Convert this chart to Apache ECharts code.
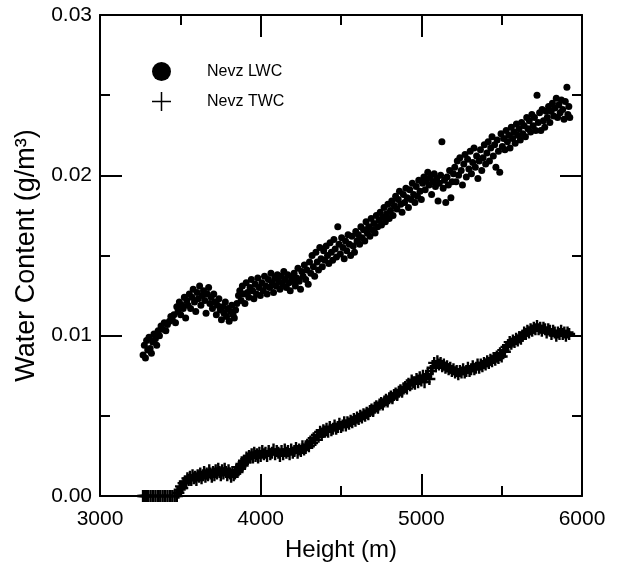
<!DOCTYPE html>
<html>
<head>
<meta charset="utf-8">
<script src="https://cdn.jsdelivr.net/npm/echarts@6/dist/echarts.min.js"></script>
<style>
  html, body { margin: 0; padding: 0; background: #fff; }
  #chart { width: 619px; height: 571px; }
</style>
</head>
<body>
<div id="chart"></div>
<script>
// Nevz LWC: [height (m), water content (g/m3)]
var lwcData = [
  [3268,0.0088],[3276,0.0094],[3283,0.0086],[3290,0.0097],[3297,0.0091],[3305,0.0099],[3312,0.0092],[3320,0.0089],[3328,0.0096],[3336,0.0101],[3345,0.0098],[3353,0.0094],[3362,0.0103],
  [3370,0.0100],[3380,0.0106],[3390,0.0104],[3400,0.0108],[3410,0.0103],[3420,0.0107],[3432,0.0109],[3441,0.0112],[3450,0.0110],[3460,0.0113],
  [3470,0.0108],[3478,0.0118],[3486,0.0115],[3494,0.0121],[3502,0.0113],[3510,0.0119],[3518,0.0117],[3525,0.0124],[3533,0.0111],[3540,0.0122],[3548,0.0119],[3556,0.0126],
  [3564,0.0117],[3572,0.0124],[3580,0.0129],[3588,0.0121],[3596,0.0115],[3604,0.0127],[3612,0.0123],[3620,0.0131],[3628,0.0119],[3636,0.0125],[3644,0.0128],[3652,0.0122],[3660,0.0114],[3668,0.0126],[3676,0.0130],[3684,0.0120],[3692,0.0124],[3700,0.0117],
  [3708,0.0126],[3716,0.0121],[3724,0.0113],[3732,0.0119],[3740,0.0123],[3748,0.0116],[3756,0.0110],[3764,0.0118],[3772,0.0114],[3780,0.0121],[3788,0.0112],[3796,0.0117],[3804,0.0109],[3812,0.0115],[3820,0.0119],[3828,0.0113],[3836,0.0111],[3844,0.0116],[3852,0.0120],
  [3862,0.0125],[3870,0.0128],[3878,0.0122],[3886,0.0131],[3894,0.0126],[3902,0.0120],[3910,0.0133],[3918,0.0127],[3926,0.0124],[3934,0.0130],[3942,0.0135],[3950,0.0128],[3958,0.0123],[3966,0.0132],[3974,0.0126],[3982,0.0136],[3990,0.0130],[3998,0.0125],
  [4008,0.0133],[4016,0.0128],[4024,0.0137],[4032,0.0131],[4040,0.0126],[4048,0.0135],[4056,0.0130],[4064,0.0139],[4072,0.0133],[4080,0.0127],[4088,0.0136],[4096,0.0131],[4104,0.0138],[4112,0.0134],[4120,0.0129],[4128,0.0137],[4136,0.0132],[4144,0.0140],[4152,0.0135],[4160,0.0130],[4168,0.0138],[4176,0.0133],[4184,0.0128],[4192,0.0136],[4200,0.0134],
  [4208,0.0139],[4216,0.0131],[4224,0.0136],[4232,0.0142],[4240,0.0134],[4248,0.0129],[4256,0.0140],[4264,0.0137],[4272,0.0144],[4280,0.0135],[4288,0.0141],[4296,0.0132],[4304,0.0146],[4312,0.0139],[4320,0.0150],[4328,0.0143],[4336,0.0137],[4344,0.0152],[4352,0.0146],[4360,0.0141],[4368,0.0155],[4376,0.0148],[4384,0.0143],[4392,0.0153],[4400,0.0147],
  [4408,0.0156],[4416,0.0150],[4424,0.0145],[4432,0.0158],[4440,0.0152],[4448,0.0147],[4456,0.0160],[4464,0.0154],[4472,0.0149],[4480,0.0168],[4488,0.0157],[4496,0.0151],[4504,0.0161],[4512,0.0155],[4520,0.0148],[4528,0.0159],[4536,0.0153],[4544,0.0163],[4552,0.0157],[4560,0.0150],[4568,0.0162],[4576,0.0156],[4584,0.0152],[4592,0.0165],[4600,0.0159],
  [4608,0.0163],[4616,0.0157],[4624,0.0168],[4632,0.0161],[4640,0.0166],[4648,0.0159],[4656,0.0171],[4664,0.0164],[4672,0.0168],[4680,0.0162],[4688,0.0173],[4696,0.0166],[4704,0.0170],[4712,0.0164],[4720,0.0175],[4728,0.0168],[4736,0.0172],[4744,0.0177],[4752,0.0169],[4760,0.0174],[4768,0.0180],[4776,0.0171],[4784,0.0176],[4792,0.0182],[4800,0.0173],
  [4808,0.0178],[4816,0.0184],[4824,0.0175],[4832,0.0181],[4840,0.0187],[4848,0.0179],[4856,0.0185],[4864,0.0190],[4872,0.0182],[4880,0.0177],[4888,0.0188],[4896,0.0183],[4904,0.0192],[4912,0.0186],[4920,0.0180],[4928,0.0191],[4936,0.0185],[4944,0.0195],[4952,0.0188],[4960,0.0183],[4968,0.0193],[4976,0.0187],[4984,0.0197],[4992,0.0190],[5000,0.0185],
  [5008,0.0195],[5016,0.0199],[5024,0.0191],[5032,0.0197],[5040,0.0202],[5048,0.0194],[5056,0.0199],[5064,0.0188],[5072,0.0196],[5080,0.0201],[5088,0.0193],[5096,0.0198],[5104,0.0184],[5112,0.0195],[5120,0.0200],[5128,0.0221],[5136,0.0192],[5144,0.0197],[5152,0.0183],[5160,0.0199],[5168,0.0194],[5176,0.0203],[5184,0.0186],[5192,0.0196],[5200,0.0201],
  [5208,0.0205],[5216,0.0196],[5224,0.0209],[5232,0.0200],[5240,0.0211],[5248,0.0203],[5256,0.0194],[5264,0.0207],[5272,0.0213],[5280,0.0199],[5288,0.0210],[5296,0.0204],[5304,0.0215],[5312,0.0201],[5320,0.0208],[5328,0.0217],[5336,0.0205],[5344,0.0212],[5352,0.0198],[5360,0.0209],[5368,0.0216],[5376,0.0203],[5384,0.0211],[5392,0.0219],[5400,0.0207],
  [5408,0.0214],[5416,0.0221],[5424,0.0209],[5432,0.0217],[5440,0.0224],[5448,0.0212],[5456,0.0219],[5464,0.0205],[5472,0.0222],[5480,0.0215],[5488,0.0202],[5496,0.0226],[5504,0.0218],[5512,0.0223],[5520,0.0216],[5528,0.0228],[5536,0.0221],[5544,0.0225],[5552,0.0217],[5560,0.0230],[5568,0.0223],[5576,0.0227],[5584,0.0220],[5592,0.0232],[5600,0.0225],
  [5608,0.0229],[5616,0.0222],[5624,0.0233],[5632,0.0226],[5640,0.0231],[5648,0.0224],[5656,0.0236],[5664,0.0229],[5672,0.0234],[5680,0.0227],[5688,0.0238],[5696,0.0231],[5704,0.0236],[5712,0.0228],[5720,0.0250],[5728,0.0233],[5736,0.0239],[5744,0.0228],[5752,0.0241],[5760,0.0234],[5768,0.0230],[5776,0.0240],[5784,0.0236],[5792,0.0243],[5800,0.0233],
  [5808,0.0240],[5816,0.0245],[5824,0.0237],[5832,0.0242],[5840,0.0248],[5848,0.0236],[5856,0.0244],[5864,0.0239],[5872,0.0247],[5880,0.0241],[5888,0.0235],[5896,0.0246],[5906,0.0255],[5912,0.0238],[5918,0.0243],[5924,0.0236]
];

// Nevz TWC: [height (m), water content (g/m3)]
var twcData = [
  [3268,0],[3276,0],[3284,0],[3292,0],[3300,0],[3315,0],[3330,0],[3345,0],[3360,0],[3375,0],[3390,0],[3405,0],[3420,0],[3435,0],[3450,0],[3465,0],[3478,0],
  [3488,0.0002],[3496,0.0004],[3504,0.0006],[3512,0.0005],[3520,0.0008],[3528,0.0009],[3536,0.0008],[3544,0.0011],[3552,0.0010],
  [3560,0.0012],[3568,0.0010],[3576,0.0013],[3584,0.0011],[3592,0.0012],[3600,0.0010],[3608,0.0013],[3616,0.0012],[3624,0.0014],[3632,0.0011],[3640,0.0013],[3648,0.0015],[3656,0.0012],[3664,0.0014],[3672,0.0013],[3680,0.0016],[3688,0.0014],[3696,0.0012],[3704,0.0015],[3712,0.0013],[3720,0.0016],[3728,0.0014],[3736,0.0017],[3744,0.0015],[3752,0.0013],[3760,0.0016],[3768,0.0014],[3776,0.0017],[3784,0.0015],[3792,0.0013],[3800,0.0016],[3808,0.0014],[3816,0.0012],[3824,0.0015],[3832,0.0013],[3840,0.0014],
  [3848,0.0016],[3856,0.0015],[3864,0.0018],[3872,0.0017],[3880,0.0020],[3888,0.0019],[3896,0.0022],[3904,0.0021],[3912,0.0024],[3920,0.0023],[3928,0.0025],[3936,0.0024],[3944,0.0026],
  [3952,0.0024],[3960,0.0027],[3968,0.0025],[3976,0.0026],[3984,0.0024],[3992,0.0027],[4000,0.0025],[4010,0.0028],[4020,0.0026],[4030,0.0027],[4040,0.0025],[4050,0.0028],[4060,0.0026],[4070,0.0027],[4080,0.0029],[4090,0.0026],[4100,0.0028],[4110,0.0027],[4120,0.0025],[4130,0.0028],[4140,0.0026],[4150,0.0029],[4160,0.0027],[4170,0.0028],[4180,0.0026],[4190,0.0029],[4200,0.0027],[4210,0.0028],[4220,0.0030],[4230,0.0027],[4240,0.0029],[4250,0.0028],[4260,0.0031],[4270,0.0029],[4280,0.0030],
  [4290,0.0032],[4300,0.0031],[4310,0.0034],[4320,0.0033],[4330,0.0036],[4340,0.0035],[4350,0.0038],[4360,0.0037],[4370,0.0040],[4380,0.0038],[4390,0.0041],
  [4400,0.0040],[4410,0.0042],[4420,0.0040],[4430,0.0043],[4440,0.0041],[4450,0.0042],[4460,0.0044],[4470,0.0042],[4480,0.0043],[4490,0.0045],[4500,0.0043],[4510,0.0044],[4520,0.0046],[4530,0.0044],[4540,0.0046],[4550,0.0045],[4560,0.0047],[4570,0.0046],[4580,0.0048],[4590,0.0047],[4600,0.0049],
  [4610,0.0048],[4620,0.0050],[4630,0.0049],[4640,0.0051],[4650,0.0050],[4660,0.0052],[4670,0.0051],[4680,0.0053],[4690,0.0054],[4700,0.0053],[4710,0.0055],[4720,0.0056],[4730,0.0055],[4740,0.0057],[4750,0.0058],[4760,0.0057],[4770,0.0059],[4780,0.0060],[4790,0.0059],[4800,0.0061],[4810,0.0062],[4820,0.0061],[4830,0.0063],[4840,0.0064],[4850,0.0063],[4860,0.0065],[4870,0.0066],[4880,0.0065],[4890,0.0067],[4900,0.0068],[4910,0.0067],[4920,0.0070],[4930,0.0069],[4940,0.0072],[4950,0.0071],
  [4960,0.0070],[4970,0.0073],[4980,0.0071],[4990,0.0074],[5000,0.0072],[5010,0.0075],[5020,0.0071],[5030,0.0074],[5040,0.0076],[5050,0.0073],[5060,0.0078],[5070,0.0080],[5080,0.0083],[5090,0.0081],[5100,0.0084],[5110,0.0082],[5120,0.0083],[5130,0.0081],[5140,0.0082],[5150,0.0080],[5160,0.0081],[5170,0.0079],[5180,0.0080],[5190,0.0078],[5200,0.0079],
  [5210,0.0077],[5220,0.0078],[5230,0.0076],[5240,0.0078],[5250,0.0077],[5260,0.0079],[5270,0.0077],[5280,0.0078],[5290,0.0080],[5300,0.0078],[5310,0.0079],[5320,0.0081],[5330,0.0079],[5340,0.0080],[5350,0.0082],[5360,0.0080],[5370,0.0082],[5380,0.0081],[5390,0.0083],[5400,0.0082],
  [5410,0.0084],[5420,0.0083],[5430,0.0085],[5440,0.0084],[5450,0.0086],[5460,0.0085],[5470,0.0087],[5480,0.0086],[5490,0.0089],[5500,0.0087],[5510,0.0091],[5520,0.0090],[5530,0.0093],[5540,0.0094],[5550,0.0096],[5560,0.0095],[5570,0.0097],[5580,0.0096],[5590,0.0098],[5600,0.0097],
  [5610,0.0099],[5620,0.0098],[5630,0.0100],[5640,0.0102],[5650,0.0101],[5660,0.0103],[5670,0.0102],[5680,0.0104],[5690,0.0103],[5700,0.0105],[5710,0.0104],[5720,0.0106],[5730,0.0104],[5740,0.0105],[5750,0.0103],[5760,0.0105],[5770,0.0104],[5780,0.0102],[5790,0.0104],[5800,0.0103],
  [5810,0.0101],[5820,0.0103],[5830,0.0102],[5840,0.0100],[5850,0.0102],[5860,0.0101],[5870,0.0103],[5880,0.0101],[5890,0.0102],[5900,0.0100],[5910,0.0102],[5920,0.0101]
];

var seriesNames = ['Nevz LWC', 'Nevz TWC'];
var xTicks = [3000, 4000, 5000, 6000];
var yTicks = [0, 0.01, 0.02, 0.03];

var FONT = '"Liberation Sans", Arial, Helvetica, sans-serif';
// filled plus shapes (thin bars)
var PLUS = 'path://M4,0H6V4H10V6H6V10H4V6H0V4H4Z';
var PLUS_LEGEND = 'path://M9.2,0H10.8V9.2H20V10.8H10.8V20H9.2V10.8H0V9.2H9.2Z';

var myChart = echarts.init(document.getElementById('chart'), null, { renderer: 'canvas' });

function axisCommon() {
  return {
    axisLine: { show: true, onZero: false, lineStyle: { color: '#000', width: 2 } },
    axisTick: { show: true, inside: true, length: 22, lineStyle: { color: '#000', width: 2 } },
    minorTick: { show: true, splitNumber: 2, length: 10, lineStyle: { color: '#000', width: 2 } },
    splitLine: { show: false }
  };
}

var xBottom = Object.assign(axisCommon(), {
  type: 'value', position: 'bottom', min: xTicks[0], max: xTicks[xTicks.length - 1], interval: 1000,
  name: 'Height (m)', nameLocation: 'middle', nameGap: 42,
  nameTextStyle: { fontFamily: FONT, fontSize: 24, color: '#000' },
  axisLabel: {
    show: true, margin: 13, fontFamily: FONT, fontSize: 21, color: '#000',
    formatter: function (v) { return String(v); }
  }
});
var xTop = Object.assign(axisCommon(), {
  type: 'value', position: 'top', min: xTicks[0], max: xTicks[xTicks.length - 1], interval: 1000,
  axisLabel: { show: false }
});
var yLeft = Object.assign(axisCommon(), {
  type: 'value', position: 'left', min: yTicks[0], max: yTicks[yTicks.length - 1], interval: 0.01,
  name: 'Water Content (g/m³)', nameLocation: 'middle', nameGap: 58, nameRotate: 90,
  nameTextStyle: { fontFamily: FONT, fontSize: 27, color: '#000' },
  axisLabel: {
    show: true, margin: 8, fontFamily: FONT, fontSize: 21, color: '#000',
    formatter: function (v) { return v.toFixed(2); }
  }
});
var yRight = Object.assign(axisCommon(), {
  type: 'value', position: 'right', min: yTicks[0], max: yTicks[yTicks.length - 1], interval: 0.01,
  axisLabel: { show: false }
});

var option = {
  backgroundColor: '#fff',
  animation: false,
  grid: { left: 100, right: 37, top: 15, bottom: 75, containLabel: false },
  legend: {
    orient: 'vertical', left: 147, top: 57,
    itemWidth: 19, itemHeight: 19, itemGap: 11,
    itemStyle: { opacity: 1 },
    textStyle: { fontFamily: FONT, fontSize: 16, color: '#000', padding: [0, 0, 0, 31] },
    data: [
      { name: seriesNames[0], icon: 'circle' },
      { name: seriesNames[1], icon: PLUS_LEGEND }
    ]
  },
  xAxis: [xBottom, xTop],
  yAxis: [yLeft, yRight],
  series: [
    {
      name: seriesNames[0], type: 'scatter', xAxisIndex: 0, yAxisIndex: 0,
      symbol: 'circle', symbolSize: 7,
      itemStyle: { color: '#000', opacity: 1 },
      data: lwcData
    },
    {
      name: seriesNames[1], type: 'scatter', xAxisIndex: 0, yAxisIndex: 0,
      symbol: PLUS, symbolSize: 12,
      itemStyle: { color: '#000', opacity: 1 },
      data: twcData
    }
  ]
};
myChart.setOption(option);
window.addEventListener('resize', function () {
  myChart.resize();
});
</script>
</body>
</html>
